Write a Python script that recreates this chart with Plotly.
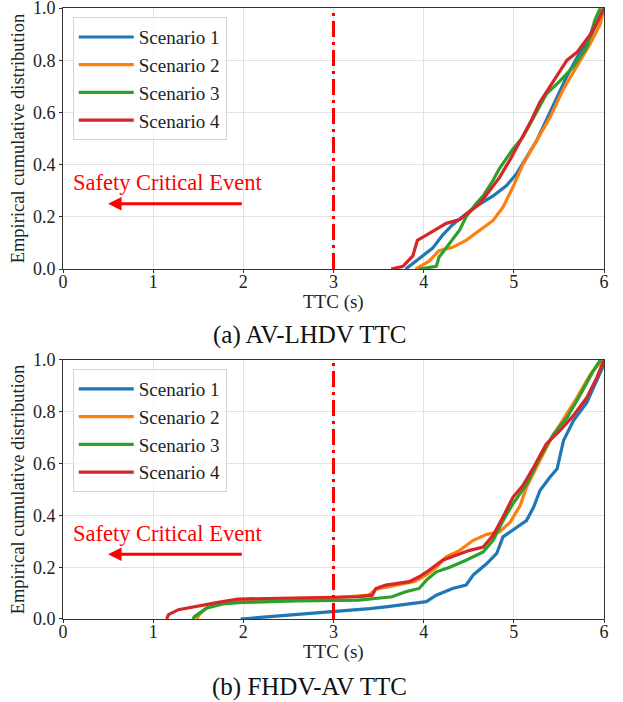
import plotly.graph_objects as go
from plotly.subplots import make_subplots

# empirical CDF of TTC (x = TTC in s, y = cumulative fraction)
# (a) AV-LHDV
a_s1_x = [3.80, 3.95, 4.10, 4.21, 4.32, 4.43, 4.58, 4.77, 4.92, 5.03, 5.14, 5.25, 5.36, 5.48, 5.59, 5.70, 5.85, 6.00]
a_s1_y = [0.00, 0.04, 0.08, 0.13, 0.17, 0.20, 0.24, 0.28, 0.32, 0.365, 0.43, 0.49, 0.57, 0.66, 0.74, 0.81, 0.89, 1.00]
a_s2_x = [3.91, 4.06, 4.17, 4.32, 4.47, 4.62, 4.77, 4.88, 4.99, 5.10, 5.25, 5.40, 5.55, 5.70, 5.85, 5.96, 6.00]
a_s2_y = [0.00, 0.03, 0.07, 0.083, 0.11, 0.147, 0.186, 0.237, 0.314, 0.40, 0.49, 0.58, 0.69, 0.775, 0.865, 0.94, 1.00]
a_s3_x = [3.95, 4.14, 4.17, 4.29, 4.40, 4.47, 4.58, 4.66, 4.77, 4.84, 4.99, 5.10, 5.22, 5.36, 5.51, 5.66, 5.81, 5.90, 5.96]
a_s3_y = [0.00, 0.01, 0.045, 0.10, 0.15, 0.20, 0.25, 0.28, 0.34, 0.385, 0.46, 0.505, 0.58, 0.67, 0.72, 0.775, 0.85, 0.955, 1.00]
a_s4_x = [3.64, 3.77, 3.88, 3.93, 4.03, 4.17, 4.25, 4.40, 4.51, 4.62, 4.73, 4.84, 4.96, 5.07, 5.18, 5.29, 5.44, 5.59, 5.70, 5.85, 5.94, 6.00]
a_s4_y = [0.00, 0.01, 0.05, 0.11, 0.13, 0.16, 0.175, 0.19, 0.22, 0.25, 0.30, 0.35, 0.42, 0.49, 0.56, 0.64, 0.72, 0.80, 0.83, 0.90, 0.955, 1.00]

# (b) FHDV-AV
b_s1_x = [1.97, 2.12, 2.39, 2.65, 2.92, 3.18, 3.40, 3.58, 3.84, 4.03, 4.14, 4.32, 4.47, 4.55, 4.70, 4.81, 4.88, 5.03, 5.14, 5.22, 5.29, 5.40, 5.48, 5.55, 5.66, 5.81, 5.92, 6.00]
b_s1_y = [0.00, 0.004, 0.013, 0.02, 0.028, 0.033, 0.04, 0.047, 0.058, 0.067, 0.092, 0.118, 0.131, 0.17, 0.214, 0.253, 0.317, 0.355, 0.38, 0.432, 0.496, 0.547, 0.58, 0.688, 0.765, 0.836, 0.92, 0.983]
b_s2_x = [1.48, 1.52, 1.60, 1.77, 1.99, 2.50, 3.00, 3.39, 3.47, 3.70, 3.90, 4.03, 4.14, 4.25, 4.40, 4.55, 4.70, 4.84, 4.96, 5.07, 5.14, 5.25, 5.40, 5.55, 5.70, 5.85, 5.98]
b_s2_y = [0.00, 0.02, 0.045, 0.06, 0.07, 0.078, 0.082, 0.092, 0.115, 0.13, 0.145, 0.17, 0.20, 0.24, 0.265, 0.304, 0.327, 0.336, 0.374, 0.438, 0.509, 0.586, 0.688, 0.772, 0.855, 0.945, 1.00]
b_s3_x = [1.44, 1.46, 1.59, 1.77, 1.99, 2.60, 3.28, 3.65, 3.80, 3.95, 4.03, 4.14, 4.29, 4.47, 4.66, 4.77, 4.88, 4.99, 5.14, 5.29, 5.44, 5.59, 5.74, 5.88, 5.96]
b_s3_y = [0.00, 0.01, 0.042, 0.058, 0.064, 0.07, 0.073, 0.086, 0.105, 0.118, 0.15, 0.182, 0.20, 0.227, 0.259, 0.304, 0.38, 0.445, 0.52, 0.624, 0.714, 0.778, 0.868, 0.958, 1.00]
b_s4_x = [1.15, 1.17, 1.28, 1.50, 1.72, 1.94, 2.39, 2.83, 3.28, 3.43, 3.47, 3.58, 3.84, 3.95, 4.06, 4.21, 4.40, 4.51, 4.66, 4.77, 4.88, 4.99, 5.10, 5.22, 5.36, 5.51, 5.66, 5.81, 5.92, 6.00]
b_s4_y = [0.00, 0.017, 0.036, 0.051, 0.064, 0.077, 0.08, 0.081, 0.086, 0.092, 0.118, 0.131, 0.144, 0.163, 0.188, 0.227, 0.25, 0.265, 0.278, 0.323, 0.394, 0.47, 0.515, 0.586, 0.676, 0.727, 0.785, 0.855, 0.932, 1.00]

names = ["Scenario 1", "Scenario 2", "Scenario 3", "Scenario 4"]
colors = ["#1f77b4", "#ff7f0e", "#2ca02c", "#d62728"]
panel_a = [(a_s1_x, a_s1_y), (a_s2_x, a_s2_y), (a_s3_x, a_s3_y), (a_s4_x, a_s4_y)]
panel_b = [(b_s1_x, b_s1_y), (b_s2_x, b_s2_y), (b_s3_x, b_s3_y), (b_s4_x, b_s4_y)]
captions = ["(a) AV-LHDV TTC", "(b) FHDV-AV TTC"]
yticks = [0.0, 0.2, 0.4, 0.6, 0.8, 1.0]

serif = "Liberation Serif"

fig = make_subplots(rows=2, cols=1)

for row, panel in [(1, panel_a), (2, panel_b)]:
    leg = "legend" if row == 1 else "legend2"
    for (xs, ys), name, c in zip(panel, names, colors):
        fig.add_trace(go.Scatter(x=xs, y=ys, mode="lines", name=name, line=dict(color=c, width=3.2),
                                 legend=leg), row=row, col=1)

legend_style = dict(xanchor="left", yanchor="top", bgcolor="rgba(255,255,255,0.8)", itemwidth=55,
                    bordercolor="#d4d4d4", borderwidth=1, font=dict(family=serif, size=19, color="#222"))
fig.update_layout(
    width=623, height=702,
    margin=dict(l=63, r=19, t=8, b=83, autoexpand=False),
    plot_bgcolor="white", paper_bgcolor="white",
    font=dict(family=serif, size=18, color="#222"),
    showlegend=True,
    legend=dict(x=0.018, y=0.985, **legend_style),
    legend2=dict(x=0.018, y=0.409, **legend_style),
)
fig.update_layout(yaxis=dict(domain=[0.5728, 1.0]), yaxis2=dict(domain=[0.0, 0.4239]))

fig.update_xaxes(range=[0, 6], dtick=1, showgrid=True, gridcolor="#e2e2e2", gridwidth=1,
                 showline=True, linecolor="#333", linewidth=1, mirror=True, zeroline=False,
                 ticks="outside", ticklen=3, tickcolor="#333", automargin=False,
                 ticklabelstandoff=-7, ticklabeloverflow="allow",
                 tickfont=dict(family=serif, size=18, color="#222"))
fig.update_yaxes(range=[0, 1], tickmode="array", tickvals=yticks, tickformat=".1f",
                 showgrid=True, gridcolor="#e2e2e2", gridwidth=1,
                 showline=True, linecolor="#333", linewidth=1, mirror=True, zeroline=False,
                 ticks="outside", ticklen=3, tickcolor="#333", automargin=False,
                 ticklabeloverflow="allow",
                 tickfont=dict(family=serif, size=18, color="#222"),
                 title=dict(text="Empirical cumulative distribution", font=dict(family=serif, size=18.5, color="#222"),
                            standoff=3))

for xr, yr in [("x", "y"), ("x2", "y2")]:
    # threshold line at TTC = 3 s
    fig.add_shape(type="line", xref=xr, yref=yr, x0=3, x1=3, y0=0, y1=1,
                  line=dict(color="red", width=3, dash="16px,5px,3px,5px"))
    fig.add_annotation(xref=xr, yref=yr, x=0.5, y=0.25, ax=2.0, ay=0.25, axref=xr, ayref=yr,
                       text="", showarrow=True, arrowhead=2, arrowsize=0.9, arrowwidth=3, arrowcolor="red")
    fig.add_annotation(xref=xr, yref=yr, x=1.16, y=0.33, text="Safety Critical Event", showarrow=False,
                       font=dict(family=serif, size=22.5, color="red"))

# x-axis titles and panel captions
for ty, cy, cap in [(0.5188, 0.4648, captions[0]), (-0.054, -0.1113, captions[1])]:
    fig.add_annotation(xref="paper", yref="paper", x=0.5, y=ty, yanchor="middle", text="TTC (s)",
                       showarrow=False, font=dict(family=serif, size=19, color="#222"))
    fig.add_annotation(xref="paper", yref="paper", x=0.456, y=cy, yanchor="middle", text=cap,
                       showarrow=False, font=dict(family=serif, size=25, color="#111"))

fig.write_html("out.html", config={"displayModeBar": False},
               post_script="document.body.style.margin='0';")
